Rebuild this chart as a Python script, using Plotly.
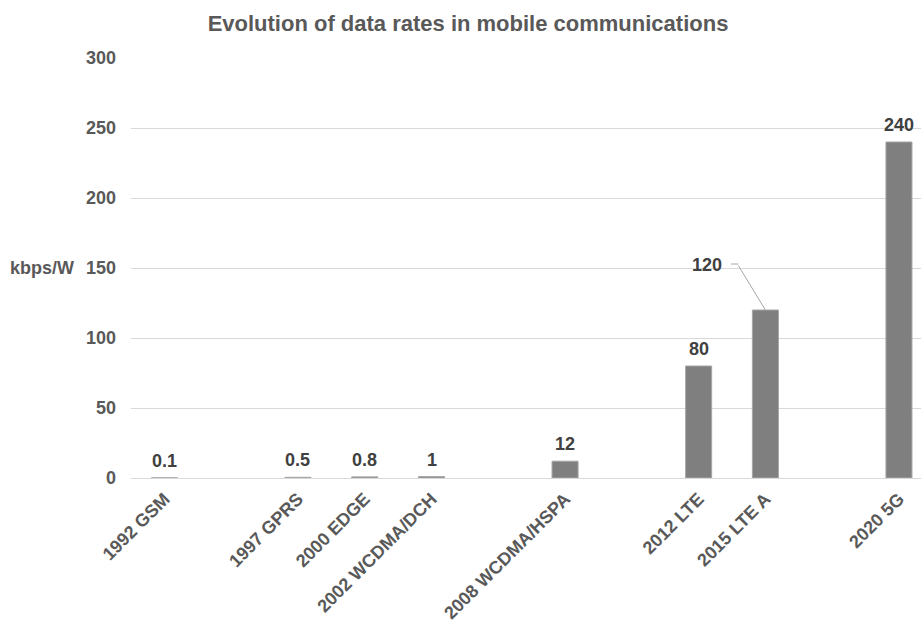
import plotly.graph_objects as go

# ---- data ----
categories = ["1992 GSM", "1997 GPRS", "2000 EDGE", "2002 WCDMA/DCH",
              "2008 WCDMA/HSPA", "2012 LTE", "2015 LTE A", "2020 5G"]
values = [0.1, 0.5, 0.8, 1, 12, 80, 120, 240]
value_labels = ["0.1", "0.5", "0.8", "1", "12", "80", "120", "240"]
y_ticks = [0, 50, 100, 150, 200, 250, 300]

# empty rows in the source sheet (blank category slots follow these)
blank_after = ["1992 GSM", "2002 WCDMA/DCH", "2008 WCDMA/HSPA", "2015 LTE A"]
# label moved off its bar with a leader line
leader_label = "2015 LTE A"

cat_order = []
n_blank = 0
for c in categories:
    cat_order.append(c)
    if c in blank_after:
        n_blank += 1
        cat_order.append(" " * n_blank)

FONT = "Liberation Sans, Arial, sans-serif"
GRAY = "#595959"
DARK = "#404040"
LEADER = "#a6a6a6"

fig = go.Figure()
fig.add_trace(go.Bar(
    x=categories, y=values,
    marker=dict(color="#7f7f7f", line=dict(color="#a6a6a6", width=1)),
    showlegend=False, hoverinfo="x+y",
))

label_font = dict(family=FONT, size=18, color=DARK, weight="bold")
annotations = []
for c, v, t in zip(categories, values, value_labels):
    if c == leader_label:
        annotations.append(dict(
            x=c, y=v, xref="x", yref="y", text=t, showarrow=False,
            xshift=-58, yshift=45, xanchor="center", yanchor="middle",
            font=label_font,
        ))
        # leader line: diagonal part from bar top, then a short horizontal part
        annotations.append(dict(
            x=c, y=v, xref="x", yref="y", text="", showarrow=True,
            arrowhead=0, arrowwidth=1, arrowcolor=LEADER,
            ax=-28, ay=-46, standoff=0, startstandoff=0,
        ))
        annotations.append(dict(
            x=c, y=v, xref="x", yref="y", text="", showarrow=True,
            xshift=-27, yshift=46,
            arrowhead=0, arrowwidth=1, arrowcolor=LEADER,
            ax=-9, ay=0, standoff=0, startstandoff=0,
        ))
    else:
        annotations.append(dict(
            x=c, y=v, xref="x", yref="y", text=t, showarrow=False,
            yshift=17, yanchor="middle", xanchor="center",
            font=label_font,
        ))

annotations.append(dict(
    x=-0.07, y=150, xref="paper", yref="y", text="kbps/W", showarrow=False,
    xanchor="right", yanchor="middle",
    font=dict(family=FONT, size=18, color=GRAY, weight="bold"),
))

fig.update_layout(
    width=921, height=624,
    margin=dict(l=131, r=0, t=58, b=146),
    paper_bgcolor="white", plot_bgcolor="white",
    bargap=0.61,
    title=dict(
        text="Evolution of data rates in mobile communications",
        x=468 / 921, xanchor="center", xref="container",
        y=1 - 23 / 624, yanchor="middle", yref="container",
        font=dict(family=FONT, size=22, color=GRAY, weight="bold"),
    ),
    annotations=annotations,
    xaxis=dict(
        type="category", categoryorder="array", categoryarray=cat_order,
        range=[-0.5, 11.33], tickangle=-45, showgrid=False, showline=False,
        zeroline=False, ticks="", automargin=False, ticklabelstandoff=6,
        tickfont=dict(family=FONT, size=18, color=GRAY, weight="bold"),
    ),
    yaxis=dict(
        range=[0, 300], tickvals=y_ticks, showgrid=True, gridcolor="#d9d9d9",
        gridwidth=1, zeroline=True, zerolinecolor="#d9d9d9", zerolinewidth=1,
        showline=False, ticks="", automargin=False, ticklabelstandoff=14,
        tickfont=dict(family=FONT, size=18, color=GRAY, weight="bold"),
    ),
)

fig.write_html("out.html")
